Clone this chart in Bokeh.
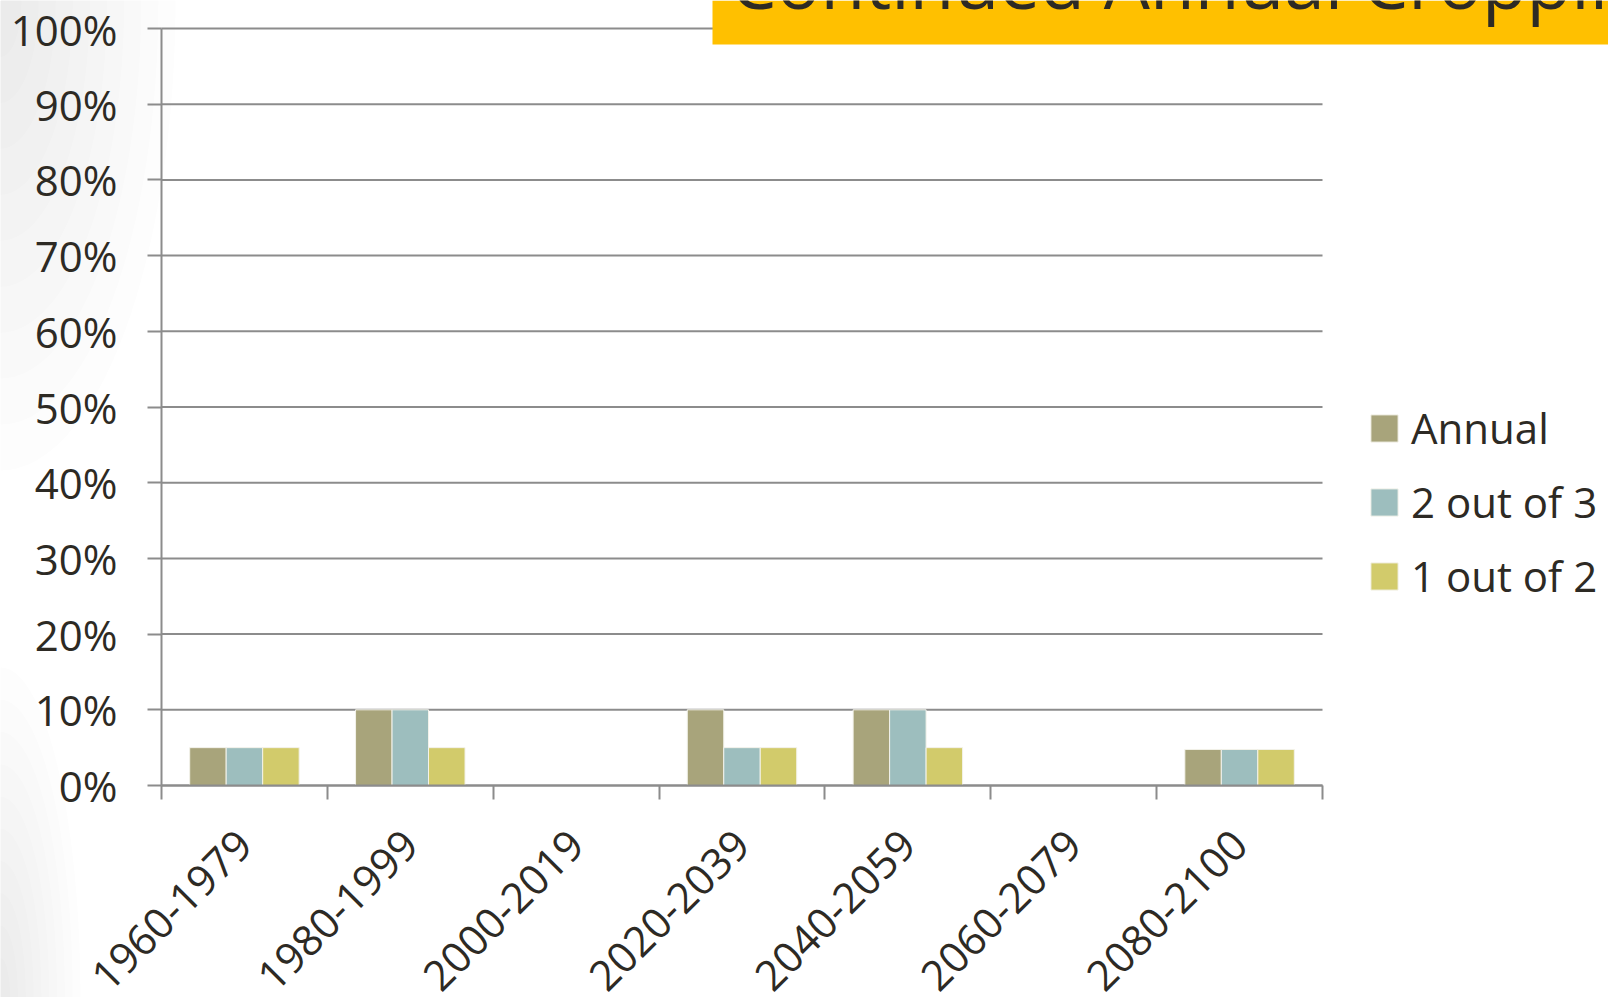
import numpy as np
from bokeh.plotting import figure
from bokeh.models import (ColumnDataSource, FixedTicker, PrintfTickFormatter, Legend,
                          LegendItem, BoxAnnotation, Label, Range1d, Node)
from bokeh.embed import file_html
from bokeh.resources import INLINE

# Share of years in each period with continued cropping, by rotation (%)
periods = ["1960-1979", "1980-1999", "2000-2019", "2020-2039",
           "2040-2059", "2060-2079", "2080-2100"]
annual = [5, 10, 0, 10, 10, 0, 4.76]
two_out_of_three = [5, 10, 0, 5, 10, 0, 4.76]
one_out_of_two = [5, 5, 0, 5, 5, 0, 4.76]
series_names = ["Annual", "2 out of 3", "1 out of 2"]
y_ticks = list(range(0, 101, 10))
title_text = "Continued Annual Cropping"

FONT = "Open Sans"
TEXT = "#2d2a24"
GRID = "#8c8c8c"
COLORS = ["#a8a47b", "#9dbebe", "#d2cb6b"]

n = len(periods)
centers = np.arange(n)
boundaries = np.arange(n + 1) - 0.5
bar_w = 0.22

# page geometry (pixels); the plotting frame covers the whole page and both
# axes are pinned inside it, so nothing near the edges gets clipped
W, H = 1608, 997
AXIS_X = 161                          # pixel column of the value axis
ZERO_Y = 785                          # pixel row of the 0 % line
CHART_W, CHART_H = 1161, 757          # width of the category area, height of 0-100 %

px_per_cat = CHART_W / n
px_per_pct = CHART_H / 100
x_start = -0.5 - AXIS_X / px_per_cat
x_end = -0.5 + (W - AXIS_X) / px_per_cat
y_start = -(H - ZERO_Y) / px_per_pct
y_end = ZERO_Y / px_per_pct

p = figure(width=W, height=H, output_backend="svg", toolbar_location=None,
           title=None,
           x_range=Range1d(x_start, x_end), y_range=Range1d(y_start, y_end),
           min_border_left=0, min_border_right=0,
           min_border_top=0, min_border_bottom=0)
p.background_fill_color = "white"
p.border_fill_color = "white"
p.outline_line_color = None
p.xgrid.grid_line_color = None
p.ygrid.grid_line_color = None

# soft grey shading in the upper and lower left corners of the page
for t in np.linspace(0.12, 1.0, 10):
    p.ellipse(x=x_start, y=y_end, width=2 * 175 * t, height=2 * 470 * t,
              width_units="screen", height_units="screen",
              fill_color="#7f7f7f", fill_alpha=0.012, line_color=None, level="underlay")
    p.ellipse(x=x_start, y=y_start, width=2 * 80 * t, height=2 * 330 * t,
              width_units="screen", height_units="screen",
              fill_color="#7f7f7f", fill_alpha=0.010, line_color=None, level="underlay")

# horizontal gridlines across the category area only
p.segment(x0=-0.5, x1=n - 0.5, y0=y_ticks, y1=y_ticks,
          line_color=GRID, line_width=2)

renderers = []
for k, (vals, col) in enumerate(zip([annual, two_out_of_three, one_out_of_two], COLORS)):
    src = ColumnDataSource(dict(x=centers + (k - 1) * bar_w, top=vals))
    r = p.vbar(x="x", top="top", bottom=0, width=bar_w, source=src,
               fill_color=col, line_color="#f3f2ea", line_width=1)
    renderers.append(r)

# y axis, pinned at the left edge of the category area
p.yaxis.fixed_location = -0.5
p.yaxis.bounds = (0, 100)
p.yaxis.ticker = FixedTicker(ticks=y_ticks)
p.yaxis.formatter = PrintfTickFormatter(format="%d%%")
p.yaxis.axis_line_color = GRID
p.yaxis.axis_line_width = 2
p.yaxis.major_tick_line_color = GRID
p.yaxis.major_tick_line_width = 2
p.yaxis.major_tick_out = 14
p.yaxis.major_tick_in = 0
p.yaxis.minor_tick_line_color = None
p.yaxis.major_label_text_font = FONT
p.yaxis.major_label_text_font_size = "42px"
p.yaxis.major_label_text_color = TEXT
p.yaxis.major_label_standoff = 30

# x axis on the 0 % line: ticks on category boundaries, labels at centres
p.xaxis.fixed_location = 0
p.xaxis.bounds = (-0.5, n - 0.5)
p.xaxis.ticker = FixedTicker(ticks=list(centers), minor_ticks=list(boundaries))
p.xaxis.major_label_overrides = {int(c): lab for c, lab in zip(centers, periods)}
p.xaxis.major_label_orientation = np.pi / 4
p.xaxis.axis_line_color = GRID
p.xaxis.axis_line_width = 2
p.xaxis.major_tick_line_color = None
p.xaxis.major_tick_out = 0
p.xaxis.major_tick_in = 0
p.xaxis.minor_tick_line_color = GRID
p.xaxis.minor_tick_line_width = 2
p.xaxis.minor_tick_out = 14
p.xaxis.minor_tick_in = 0
p.xaxis.major_label_text_font = FONT
p.xaxis.major_label_text_font_size = "42px"
p.xaxis.major_label_text_color = TEXT
p.xaxis.major_label_standoff = 38

legend = Legend(
    items=[LegendItem(label=nm, renderers=[r]) for nm, r in zip(series_names, renderers)],
    location=(1367, 393), orientation="vertical",
    glyph_width=34, glyph_height=34, label_standoff=10, spacing=17,
    label_text_font=FONT, label_text_font_size="42px", label_text_color=TEXT,
    border_line_color=None, background_fill_alpha=0, padding=0, margin=0)
p.add_layout(legend, "center")

# heading banner
p.add_layout(BoxAnnotation(
    left=Node(target="canvas", symbol="left", offset=712),
    right=Node(target="canvas", symbol="right", offset=0),
    top=Node(target="canvas", symbol="top", offset=0),
    bottom=Node(target="canvas", symbol="top", offset=44),
    fill_color="#ffc000", fill_alpha=1, line_color=None, level="overlay"))
p.add_layout(Label(x=730, y=H + 20, x_units="screen", y_units="screen",
                   text=title_text,
                   text_font=FONT, text_font_size="73px", text_color=TEXT,
                   text_align="left", text_baseline="alphabetic", level="overlay"))

open("out.html", "w").write(file_html(p, INLINE))
